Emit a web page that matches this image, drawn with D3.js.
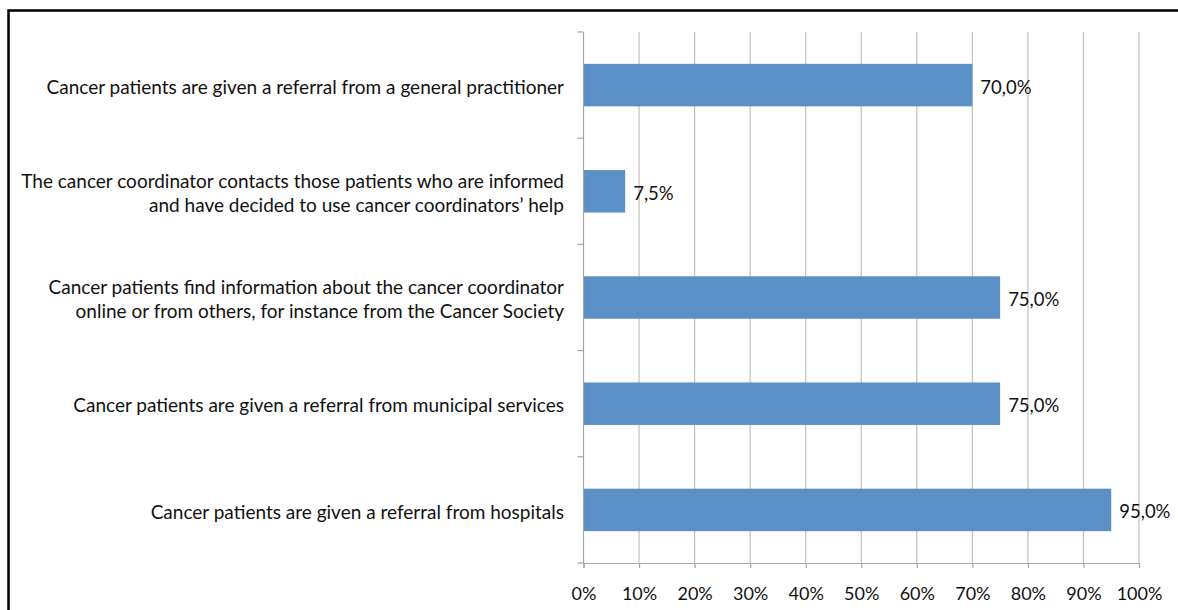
<!DOCTYPE html>
<html>
<head>
<meta charset="utf-8">
<script src="https://cdn.jsdelivr.net/npm/d3@7"></script>
<style>
  html, body { margin: 0; padding: 0; background: #fff; }
  svg text { font-family: Lato, "Open Sans", sans-serif; fill: #111; }
</style>
</head>
<body>
<svg id="chart" width="1178" height="610"></svg>
<script>
// Ways cancer patients come in contact with a cancer coordinator (top to bottom)
const categories = [
  ["Cancer patients are given a referral from a general practitioner"],
  ["The cancer coordinator contacts those patients who are informed", "and have decided to use cancer coordinators\u2019 help"],
  ["Cancer patients find information about the cancer coordinator", "online or from others, for instance from the Cancer Society"],
  ["Cancer patients are given a referral from municipal services"],
  ["Cancer patients are given a referral from hospitals"]
];
const values = [70.0, 7.5, 75.0, 75.0, 95.0];
const xTicks = [0, 10, 20, 30, 40, 50, 60, 70, 80, 90, 100];

const svg = d3.select("#chart");

// outer frame
svg.append("rect")
  .attr("x", 8.5).attr("y", 10.5)
  .attr("width", 1178).attr("height", 620)
  .attr("fill", "none").attr("stroke", "#000").attr("stroke-width", 2.5);

const plotLeft = 583.5, plotRight = 1139, plotTop = 32, plotBottom = 563;

const x = d3.scaleLinear().domain([0, 100]).range([plotLeft, plotRight]);
const y = d3.scaleBand().domain(d3.range(categories.length)).range([plotTop, plotBottom])
  .paddingInner(0.6).paddingOuter(0.3);
const yEdge = d3.scaleLinear().domain([0, categories.length]).range([plotTop, plotBottom]);

// vertical gridlines
svg.append("g").selectAll("line").data(xTicks.slice(1)).join("line")
  .attr("x1", d => x(d)).attr("x2", d => x(d))
  .attr("y1", plotTop).attr("y2", plotBottom)
  .attr("stroke", "#c0c0c0").attr("stroke-width", 1.2);

// bars
svg.append("g").selectAll("rect").data(values).join("rect")
  .attr("x", x(0))
  .attr("y", (d, i) => y(i))
  .attr("width", d => x(d) - x(0))
  .attr("height", y.bandwidth())
  .attr("fill", "#5b90c6");

// value labels
svg.append("g").selectAll("text").data(values).join("text")
  .attr("x", d => x(d) + 8)
  .attr("y", (d, i) => y(i) + y.bandwidth() / 2 + 2)
  .attr("dy", "0.35em")
  .attr("font-size", 18.5)
  .text(d => d.toFixed(1).replace(".", ",") + "%");

// x axis
const xAxis = d3.axisBottom(x).tickValues(xTicks).tickSize(5).tickPadding(19)
  .tickFormat(d => d + "%");
const gx = svg.append("g").attr("transform", `translate(0,${plotBottom})`).call(xAxis);
gx.select(".domain").attr("stroke", "#a6a6a6").attr("stroke-width", 1.2);
gx.selectAll(".tick line").attr("stroke", "#a6a6a6").attr("stroke-width", 1.2);
gx.selectAll(".tick text").attr("font-size", 18).attr("font-family", "Lato, sans-serif").attr("fill", "#111");

// y axis line and category ticks
svg.append("line")
  .attr("x1", plotLeft).attr("x2", plotLeft).attr("y1", plotTop).attr("y2", plotBottom)
  .attr("stroke", "#a6a6a6").attr("stroke-width", 1.2);
svg.append("g").selectAll("line").data(d3.range(categories.length + 1)).join("line")
  .attr("x1", plotLeft - 6).attr("x2", plotLeft)
  .attr("y1", d => yEdge(d)).attr("y2", d => yEdge(d))
  .attr("stroke", "#a6a6a6").attr("stroke-width", 1.2);

// category labels
const lineH = 24;
svg.append("g").selectAll("text").data(categories).join("text")
  .attr("text-anchor", "end")
  .attr("font-size", 19)
  .attr("transform", (d, i) => `translate(564,${y(i) + y.bandwidth() / 2 + 2})`)
  .each(function(lines) {
    const t = d3.select(this);
    lines.forEach((ln, k) => {
      t.append("tspan").attr("x", 0)
        .attr("y", (k - (lines.length - 1) / 2) * lineH)
        .attr("dy", "0.35em")
        .text(ln);
    });
  });
</script>
</body>
</html>
